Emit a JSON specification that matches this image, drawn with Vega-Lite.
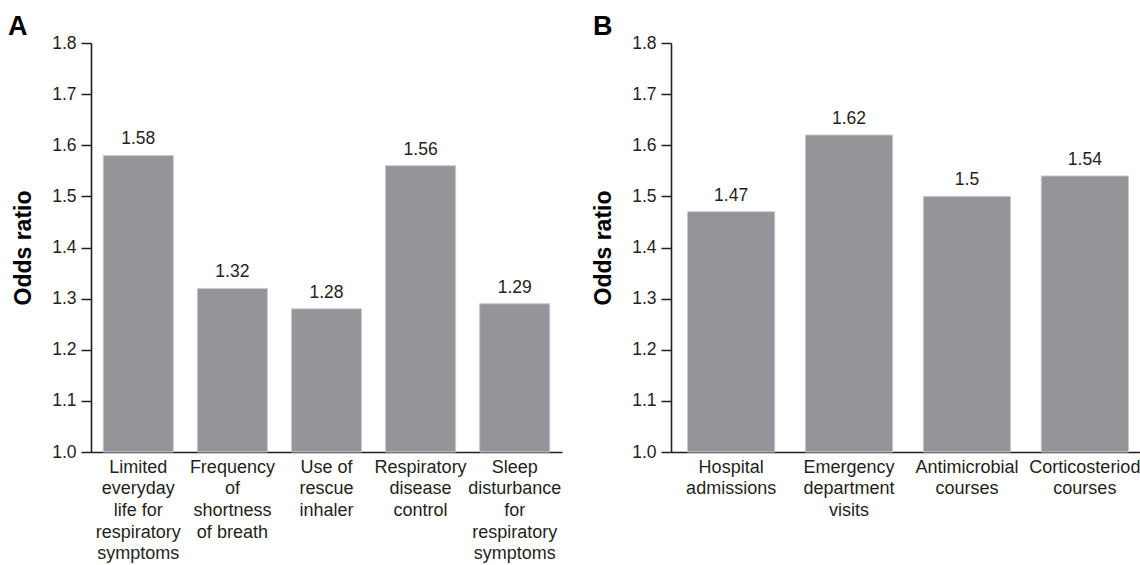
{
  "$schema": "https://vega.github.io/schema/vega-lite/v6.json",
  "background": "white",
  "padding": {"left": 8, "top": 12, "right": 0, "bottom": 0},
  "bounds": "flush",
  "spacing": 109,
  "datasets": {
    "a": [
      {"measure": "Limited\neveryday\nlife for\nrespiratory\nsymptoms", "odds": 1.58},
      {"measure": "Frequency\nof\nshortness\nof breath", "odds": 1.32},
      {"measure": "Use of\nrescue\ninhaler", "odds": 1.28},
      {"measure": "Respiratory\ndisease\ncontrol", "odds": 1.56},
      {"measure": "Sleep\ndisturbance\nfor\nrespiratory\nsymptoms", "odds": 1.29}
    ],
    "b": [
      {"measure": "Hospital\nadmissions", "odds": 1.47},
      {"measure": "Emergency\ndepartment\nvisits", "odds": 1.62},
      {"measure": "Antimicrobial\ncourses", "odds": 1.5},
      {"measure": "Corticosteriod\ncourses", "odds": 1.54}
    ]
  },
  "hconcat": [
    {
      "data": {"name": "a"},
      "width": 471,
      "height": 409,
      "title": {"text": "A", "anchor": "start", "frame": "group", "dx": -83, "offset": -6.5},
      "encoding": {
        "x": {
          "field": "measure", "type": "nominal", "sort": null,
          "scale": {"paddingInner": 0.255, "paddingOuter": 0.13},
          "axis": {"title": null, "labelAngle": 0, "ticks": false, "labelExpr": "split(datum.label, '\\n')", "labelFontSize": 18, "labelLineHeight": 21.7, "labelPadding": 6, "labelLimit": 0, "labelOverlap": false, "labelBound": false, "labelBaseline": "top"}
        },
        "y": {
          "field": "odds", "type": "quantitative",
          "scale": {"domain": [1, 1.8], "nice": false, "zero": false},
          "axis": {"title": "Odds ratio", "values": [1, 1.1, 1.2, 1.3, 1.4, 1.5, 1.6, 1.7, 1.8], "format": ".1f", "grid": false}
        }
      },
      "layer": [
        {"mark": {"type": "bar", "color": "#939598", "stroke": "#c9cacc", "strokeWidth": 1}, "encoding": {"y2": {"datum": 1}}},
        {"mark": {"type": "text", "baseline": "alphabetic", "dy": -11, "fontSize": 17.5, "color": "#231f20", "font": "Liberation Sans"}, "encoding": {"text": {"field": "odds", "type": "quantitative"}}}
      ]
    },
    {
      "data": {"name": "b"},
      "width": 474,
      "height": 409,
      "title": {"text": "B", "anchor": "start", "frame": "group", "dx": -78, "offset": -6.5},
      "encoding": {
        "x": {
          "field": "measure", "type": "nominal", "sort": null,
          "scale": {"paddingInner": 0.26, "paddingOuter": 0.14},
          "axis": {"title": null, "labelAngle": 0, "ticks": false, "labelExpr": "split(datum.label, '\\n')", "labelFontSize": 18, "labelLineHeight": 21.7, "labelPadding": 6, "labelLimit": 0, "labelOverlap": false, "labelBound": false, "labelBaseline": "top"}
        },
        "y": {
          "field": "odds", "type": "quantitative",
          "scale": {"domain": [1, 1.8], "nice": false, "zero": false},
          "axis": {"title": "Odds ratio", "values": [1, 1.1, 1.2, 1.3, 1.4, 1.5, 1.6, 1.7, 1.8], "format": ".1f", "grid": false}
        }
      },
      "layer": [
        {"mark": {"type": "bar", "color": "#939598", "stroke": "#c9cacc", "strokeWidth": 1}, "encoding": {"y2": {"datum": 1}}},
        {"mark": {"type": "text", "baseline": "alphabetic", "dy": -11, "fontSize": 17.5, "color": "#231f20", "font": "Liberation Sans"}, "encoding": {"text": {"field": "odds", "type": "quantitative"}}}
      ]
    }
  ],
  "config": {
    "view": {"stroke": null},
    "font": "Liberation Sans",
    "title": {"fontSize": 27, "fontWeight": "bold", "color": "#000000", "font": "Liberation Sans"},
    "axis": {
      "domainColor": "#231f20", "domainWidth": 1.6, "tickColor": "#231f20", "tickWidth": 1.5, "tickSize": 10,
      "labelColor": "#231f20", "labelFont": "Liberation Sans", "labelFontSize": 17.5, "labelPadding": 5,
      "titleFont": "Liberation Sans", "titleFontSize": 23, "titleFontWeight": "bold", "titleColor": "#000000", "titlePadding": 16
    }
  }
}
